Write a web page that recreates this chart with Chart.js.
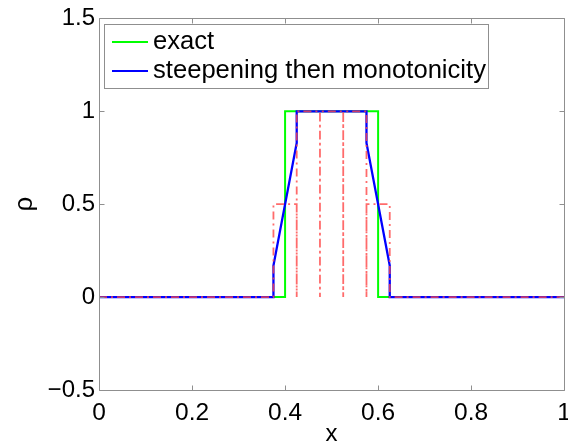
<!DOCTYPE html>
<html><head><meta charset="utf-8">
<script src="https://cdn.jsdelivr.net/npm/chart.js@4/dist/chart.umd.min.js"></script>
<style>
html,body{margin:0;padding:0;background:#fff;overflow:hidden}
#wrap{width:568px;height:446px;overflow:hidden;position:relative}
canvas{display:block}
</style>
</head><body><div id="wrap"><canvas id="c" width="580" height="446"></canvas></div>
<script>
// exact solution
const exactX = [0, 0.4, 0.4, 0.6, 0.6, 1];
const exactY = [0, 0, 1, 1, 0, 0];
// steepening then monotonicity
const steepX = [0, 0.375, 0.375, 0.425, 0.425, 0.575, 0.575, 0.625, 0.625, 1];
const steepY = [0, 0, 0.17, 0.83, 1, 1, 0.83, 0.17, 0, 0];
// cell averages (red dash-dot)
const cellX = [0, 0.375, 0.375, 0.425, 0.425, 0.425, 0.475, 0.475, 0.475, 0.525, 0.525, 0.525, 0.575, 0.575, 0.575, 0.625, 0.625, 1];
const cellY = [0, 0, 0.5, 0.5, 0, 1, 1, 0, 1, 1, 0, 1, 1, 0, 0.5, 0.5, 0, 0];

const seriesLabels = ['exact', 'steepening then monotonicity'];
const xTicks = [0, 0.2, 0.4, 0.6, 0.8, 1];
const xTickLabels = ['0', '0.2', '0.4', '0.6', '0.8', '1'];
const yTicks = [-0.5, 0, 0.5, 1, 1.5];
const yTickLabels = ['\u22120.5', '0', '0.5', '1', '1.5'];

const toPts = (xs, ys) => xs.map((x, i) => ({x: x, y: ys[i]}));
const FONT = 'Liberation Sans, Arial, Helvetica, sans-serif';
const AXIS = '#8f8f8f';

const framePlugin = {
  id: 'frame',
  afterDatasetsDraw(chart) {
    const ctx = chart.ctx, a = chart.chartArea;
    const xs = chart.scales.x, ys = chart.scales.y;
    ctx.save();
    ctx.strokeStyle = AXIS;
    ctx.lineWidth = 1;
    ctx.beginPath();
    const L = Math.round(a.left) + 0.5, R = Math.round(a.right) + 0.5;
    const T = Math.round(a.top) + 0.5, B = Math.round(a.bottom) + 0.5;
    ctx.moveTo(L, T); ctx.lineTo(L, B); ctx.lineTo(R, B); ctx.lineTo(R, T); ctx.closePath();
    const tl = 5;
    xTicks.forEach(v => {
      const px = Math.round(xs.getPixelForValue(v)) + 0.5;
      ctx.moveTo(px, B); ctx.lineTo(px, B - tl);
      ctx.moveTo(px, T); ctx.lineTo(px, T + tl);
    });
    yTicks.forEach(v => {
      const py = Math.round(ys.getPixelForValue(v)) + 0.5;
      ctx.moveTo(L, py); ctx.lineTo(L + tl, py);
      ctx.moveTo(R, py); ctx.lineTo(R - tl, py);
    });
    ctx.stroke();

    // legend box
    const bx = 104.5, by = 24.5, bw = 384, bh = 64;
    ctx.fillStyle = '#fff';
    ctx.fillRect(bx, by, bw, bh);
    ctx.strokeStyle = AXIS;
    ctx.strokeRect(bx, by, bw, bh);
    const rows = [42, 71];
    const cols = ['#00ff00', '#0000ff'];
    ctx.font = '25.6px ' + FONT;
    ctx.textBaseline = 'middle';
    ctx.textAlign = 'left';
    seriesLabels.forEach((lab, i) => {
      ctx.strokeStyle = cols[i];
      ctx.lineWidth = 2;
      ctx.beginPath();
      ctx.moveTo(112, rows[i]); ctx.lineTo(148, rows[i]);
      ctx.stroke();
      ctx.fillStyle = '#000';
      ctx.fillText(lab, 153, rows[i]);
    });
    ctx.restore();
  }
};

new Chart(document.getElementById('c'), {
  type: 'line',
  data: {
    datasets: [
      {label: seriesLabels[0], data: toPts(exactX, exactY), borderColor: '#00ff00', borderWidth: 2, pointRadius: 0, order: 3, tension: 0, fill: false},
      {label: seriesLabels[1], data: toPts(steepX, steepY), borderColor: '#0000ff', borderWidth: 2.3, pointRadius: 0, order: 2, tension: 0, fill: false},
      {label: 'cells', data: toPts(cellX, cellY), borderColor: 'rgba(255,70,70,0.8)', borderWidth: 1.8, borderDash: [8, 4, 2, 4], pointRadius: 0, order: 1, tension: 0, fill: false}
    ]
  },
  options: {
    responsive: false,
    animation: false,
    events: [],
    layout: {padding: {top: 18, right: 9, left: 0, bottom: 0}},
    plugins: {legend: {display: false}, tooltip: {enabled: false}},
    scales: {
      x: {
        type: 'linear', min: 0, max: 1,
        grid: {display: false, drawTicks: false},
        border: {display: false},
        afterBuildTicks: s => { s.ticks = xTicks.map(v => ({value: v})); },
        afterFit: s => { s.height = 56; },
        ticks: {
          color: '#000', padding: 9, maxRotation: 0, autoSkip: false,
          font: {family: FONT, size: 24.5},
          callback: (v, i) => xTickLabels[i]
        },
        title: {display: true, text: 'x', color: '#000', font: {family: FONT, size: 24, lineHeight: 1}, padding: {top: 0, bottom: 0}}
      },
      y: {
        type: 'linear', min: -0.5, max: 1.5,
        grid: {display: false, drawTicks: false},
        border: {display: false},
        afterBuildTicks: s => { s.ticks = yTicks.map(v => ({value: v})); },
        afterFit: s => { s.width = 99; },
        ticks: {
          color: '#000', padding: 4, autoSkip: false,
          font: {family: FONT, size: 24},
          callback: (v, i) => yTickLabels[i]
        },
        title: {display: true, text: '\u03c1', color: '#000', font: {family: FONT, size: 26, lineHeight: 1}, padding: {top: 12, bottom: 0}}
      }
    }
  },
  plugins: [framePlugin]
});
</script>
</body></html>
